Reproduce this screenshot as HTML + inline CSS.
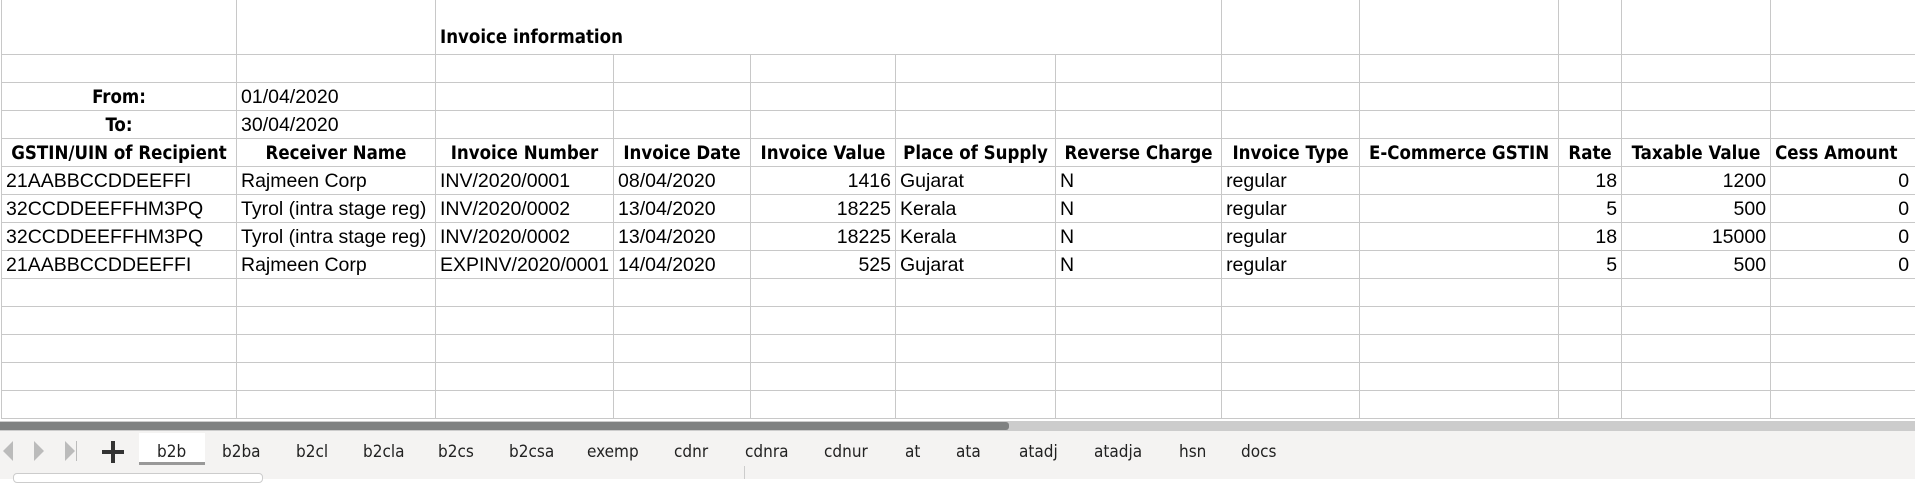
<!DOCTYPE html>
<html><head><meta charset="utf-8"><style>
*{margin:0;padding:0;box-sizing:border-box}
body{width:1915px;height:479px;overflow:hidden;background:#fff;font-family:"Liberation Sans",Arial,sans-serif;position:relative}
table{position:absolute;left:1px;top:0;border-collapse:collapse;table-layout:fixed;width:1930px}
td{border:1px solid #c8c8c8;height:28px;font-size:19.5px;color:#000;padding:0 4px;white-space:nowrap;overflow:hidden;vertical-align:bottom;padding-bottom:1px;line-height:24px}
tr:first-child td{border-top:none;height:54px}
td.h{font-weight:bold;text-align:center;font-family:"DejaVu Sans Condensed","Liberation Sans Narrow","Liberation Sans",sans-serif;font-size:18.5px;padding-left:1px;padding-right:1px;padding-bottom:0}
td.r{text-align:right}
td.t{font-weight:bold;font-family:"DejaVu Sans Condensed","Liberation Sans",sans-serif;font-size:18.5px;padding-bottom:4px}
#scroll{position:absolute;left:0;top:421px;width:1915px;height:10px;background:#cccccc}
#thumb{position:absolute;left:0;top:1px;width:1009px;height:8px;background:#7f8181;border-radius:0 3px 3px 0}
#tabs{position:absolute;left:0;top:431px;width:1915px;height:48px;background:#f4f3f2}
.tab{position:absolute;top:11px;font-family:"Liberation Sans Narrow","DejaVu Sans Condensed",sans-serif;font-size:17px;color:#222}
#active{position:absolute;left:139px;top:2px;width:66px;height:32px;background:#fff;border-bottom:3px solid #999}
.nav{position:absolute;top:10px;width:0;height:0;border-top:10px solid transparent;border-bottom:10px solid transparent}
</style></head><body>
<table>
<colgroup><col style="width:235px"><col style="width:199px"><col style="width:178px"><col style="width:137px"><col style="width:145px"><col style="width:160px"><col style="width:166px"><col style="width:138px"><col style="width:199px"><col style="width:63px"><col style="width:149px"><col style="width:161px"></colgroup>
<tr><td></td><td></td><td class="t" colspan="5">Invoice information</td><td></td><td></td><td></td><td></td><td></td></tr>
<tr><td></td><td></td><td></td><td></td><td></td><td></td><td></td><td></td><td></td><td></td><td></td><td></td></tr>
<tr><td class="h">From:</td><td>01/04/2020</td><td></td><td></td><td></td><td></td><td></td><td></td><td></td><td></td><td></td><td></td></tr>
<tr><td class="h">To:</td><td>30/04/2020</td><td></td><td></td><td></td><td></td><td></td><td></td><td></td><td></td><td></td><td></td></tr>
<tr><td class="h">GSTIN/UIN of Recipient</td><td class="h">Receiver Name</td><td class="h">Invoice Number</td><td class="h">Invoice Date</td><td class="h">Invoice Value</td><td class="h">Place of Supply</td><td class="h">Reverse Charge</td><td class="h">Invoice Type</td><td class="h">E-Commerce GSTIN</td><td class="h">Rate</td><td class="h">Taxable Value</td><td class="h" style="text-align:left;padding-left:4px">Cess Amount</td></tr>
<tr><td>21AABBCCDDEEFFI</td><td>Rajmeen Corp</td><td>INV/2020/0001</td><td>08/04/2020</td><td class="r">1416</td><td>Gujarat</td><td>N</td><td>regular</td><td></td><td class="r">18</td><td class="r">1200</td><td class="r" style="padding-right:22px">0</td></tr>
<tr><td>32CCDDEEFFHM3PQ</td><td>Tyrol (intra stage reg)</td><td>INV/2020/0002</td><td>13/04/2020</td><td class="r">18225</td><td>Kerala</td><td>N</td><td>regular</td><td></td><td class="r">5</td><td class="r">500</td><td class="r" style="padding-right:22px">0</td></tr>
<tr><td>32CCDDEEFFHM3PQ</td><td>Tyrol (intra stage reg)</td><td>INV/2020/0002</td><td>13/04/2020</td><td class="r">18225</td><td>Kerala</td><td>N</td><td>regular</td><td></td><td class="r">18</td><td class="r">15000</td><td class="r" style="padding-right:22px">0</td></tr>
<tr><td>21AABBCCDDEEFFI</td><td>Rajmeen Corp</td><td>EXPINV/2020/0001</td><td>14/04/2020</td><td class="r">525</td><td>Gujarat</td><td>N</td><td>regular</td><td></td><td class="r">5</td><td class="r">500</td><td class="r" style="padding-right:22px">0</td></tr>
<tr><td></td><td></td><td></td><td></td><td></td><td></td><td></td><td></td><td></td><td></td><td></td><td></td></tr>
<tr><td></td><td></td><td></td><td></td><td></td><td></td><td></td><td></td><td></td><td></td><td></td><td></td></tr>
<tr><td></td><td></td><td></td><td></td><td></td><td></td><td></td><td></td><td></td><td></td><td></td><td></td></tr>
<tr><td></td><td></td><td></td><td></td><td></td><td></td><td></td><td></td><td></td><td></td><td></td><td></td></tr>
<tr><td></td><td></td><td></td><td></td><td></td><td></td><td></td><td></td><td></td><td></td><td></td><td></td></tr>
</table>
<div id="scroll"><div id="thumb"></div></div>
<div id="tabs">
<div class="nav" style="left:3px;border-right:10px solid #bbb"></div>
<div class="nav" style="left:34px;border-left:10px solid #bbb"></div>
<div class="nav" style="left:65px;border-left:10px solid #bbb"></div>
<div style="position:absolute;left:76px;top:10px;width:1px;height:20px;background:#bbb"></div>
<div style="position:absolute;left:102px;top:10px;width:22px;height:22px">
<div style="position:absolute;left:0;top:9px;width:22px;height:4px;background:#333"></div>
<div style="position:absolute;left:9px;top:0;width:4px;height:22px;background:#333"></div></div>
<div id="active"></div>
<span class="tab" style="left:157px">b2b</span>
<span class="tab" style="left:222px">b2ba</span>
<span class="tab" style="left:296px">b2cl</span>
<span class="tab" style="left:363px">b2cla</span>
<span class="tab" style="left:438px">b2cs</span>
<span class="tab" style="left:509px">b2csa</span>
<span class="tab" style="left:587px">exemp</span>
<span class="tab" style="left:674px">cdnr</span>
<span class="tab" style="left:745px">cdnra</span>
<span class="tab" style="left:824px">cdnur</span>
<span class="tab" style="left:905px">at</span>
<span class="tab" style="left:956px">ata</span>
<span class="tab" style="left:1019px">atadj</span>
<span class="tab" style="left:1094px">atadja</span>
<span class="tab" style="left:1179px">hsn</span>
<span class="tab" style="left:1241px">docs</span>
<div style="position:absolute;left:13px;top:42px;width:250px;height:10px;background:#fff;border:1px solid #ccc;border-radius:4px"></div>
<div style="position:absolute;left:744px;top:35px;width:1px;height:13px;background:#ccc"></div>
</div>
</body></html>
